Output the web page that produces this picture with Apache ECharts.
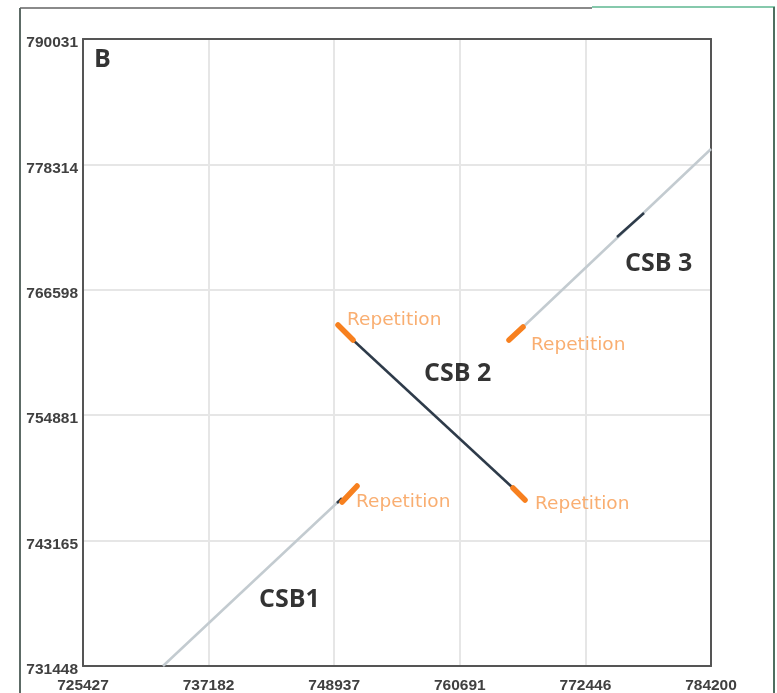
<!DOCTYPE html>
<html><head><meta charset="utf-8">
<script src="https://cdn.jsdelivr.net/npm/echarts@6/dist/echarts.min.js"></script>
<style>html,body{margin:0;padding:0;background:#fff}#c{width:777px;height:693px}</style>
</head><body><div id="c"></div>
<script>
// Axis ticks
const xTicks = [725427, 737182, 748937, 760691, 772446, 784200];
const yTicks = [731448, 743165, 754881, 766598, 778314, 790031];

// Segments: [x1, y1, x2, y2]
const greySegments = [
  [732914, 731448, 749386, 746864],
  [766607, 763121, 784200, 779752]
];
const darkSegments = [
  [750696, 761906, 765671, 748079],
  [749199, 746677, 749667, 747144],
  [775404, 771530, 777931, 773772]
];
const orangeSegments = [
  [749667, 746771, 751071, 748265],
  [749292, 763308, 750696, 761906],
  [765671, 748079, 766794, 746957],
  [765296, 761906, 766607, 763121]
];

// Annotations: [x, y, text]
const repetitionLabels = [
  [750135, 763775, 'Repetition'],
  [767355, 761439, 'Repetition'],
  [750977, 746771, 'Repetition'],
  [767730, 746584, 'Repetition']
];
const csbLabels = [
  [757342, 758730, 'CSB 2'],
  [776153, 769007, 'CSB 3'],
  [741899, 737614, 'CSB1']
];
const panelLabel = [[726456, 788067, 'B']];

const chart = echarts.init(document.getElementById('c'), null, {renderer: 'canvas'});

function segSeries(segs, color, width, cap) {
  return segs.map(s => ({
    type: 'line', data: [[s[0], s[1]], [s[2], s[3]]], showSymbol: false, silent: true,
    lineStyle: {color: color, width: width, cap: cap || 'butt'}, z: 3
  }));
}
function textSeries(arr, style) {
  return {
    type: 'scatter', symbolSize: 0, silent: true, z: 5,
    data: arr.map(a => ({value: [a[0], a[1]], name: a[2]})),
    label: Object.assign({show: true, position: 'right', distance: 0, formatter: p => p.name}, style)
  };
}

const nearest = (arr, v) => arr.reduce((a, b) => Math.abs(b - v) < Math.abs(a - v) ? b : a);
const frameLine = {show: true, lineStyle: {color: '#555', width: 2}};
const labelStyle = {color: '#404040', fontWeight: 'bold', fontSize: 15.5, fontFamily: 'Liberation Sans', showMinLabel: true, showMaxLabel: true};

chart.setOption({
  animation: false,
  grid: {left: 83, top: 39, width: 628, height: 627, outerBoundsMode: 'none', containLabel: false},
  xAxis: [{
    type: 'value', min: xTicks[0], max: xTicks[xTicks.length - 1],
    interval: (xTicks[5] - xTicks[0]) / 5,
    axisLine: frameLine, axisTick: {show: false},
    splitLine: {show: true, lineStyle: {color: '#e6e6e6', width: 2}},
    axisLabel: Object.assign({margin: 12, formatter: v => String(nearest(xTicks, v))}, labelStyle),
    z: 2
  }, {
    type: 'value', position: 'top', min: xTicks[0], max: xTicks[5],
    axisLine: frameLine, axisTick: {show: false}, axisLabel: {show: false}, splitLine: {show: false}, z: 2
  }],
  yAxis: [{
    type: 'value', min: yTicks[0], max: yTicks[yTicks.length - 1],
    interval: (yTicks[5] - yTicks[0]) / 5,
    axisLine: frameLine, axisTick: {show: false},
    splitLine: {show: true, lineStyle: {color: '#e6e6e6', width: 2}},
    axisLabel: Object.assign({margin: 5, verticalAlign: 'top', padding: [-4, 0, 0, 0], formatter: v => String(nearest(yTicks, v))}, labelStyle),
    z: 2
  }, {
    type: 'value', position: 'right', min: yTicks[0], max: yTicks[5],
    axisLine: frameLine, axisTick: {show: false}, axisLabel: {show: false}, splitLine: {show: false}, z: 2
  }],
  graphic: [
    {type: 'line', shape: {x1: 20, y1: 8, x2: 592, y2: 8}, style: {stroke: '#8a8a8a', lineWidth: 2}},
    {type: 'line', shape: {x1: 20, y1: 8, x2: 20, y2: 693}, style: {stroke: '#5d6b66', lineWidth: 2}},
    {type: 'line', shape: {x1: 592, y1: 7, x2: 775, y2: 7}, style: {stroke: '#86c9ac', lineWidth: 2}},
    {type: 'line', shape: {x1: 774, y1: 7, x2: 774, y2: 693}, style: {stroke: '#4f6f60', lineWidth: 2}}
  ],
  series: [].concat(
    segSeries(greySegments, '#c3cbd0', 2.5),
    segSeries(darkSegments, '#2e3b4a', 2.5),
    segSeries(orangeSegments, '#f7801f', 5.5, 'round'),
    [
      textSeries(repetitionLabels, {color: '#f79a4e', fontSize: 18.5, fontFamily: 'DejaVu Sans'}),
      textSeries(csbLabels, {color: '#000000', fontSize: 25, fontWeight: 'bold', fontFamily: 'Open Sans', textBorderWidth: 0}),
      textSeries(panelLabel, {color: '#000000', fontSize: 25, fontWeight: 'bold', fontFamily: 'Open Sans', textBorderWidth: 0})
    ]
  )
});
</script></body></html>
